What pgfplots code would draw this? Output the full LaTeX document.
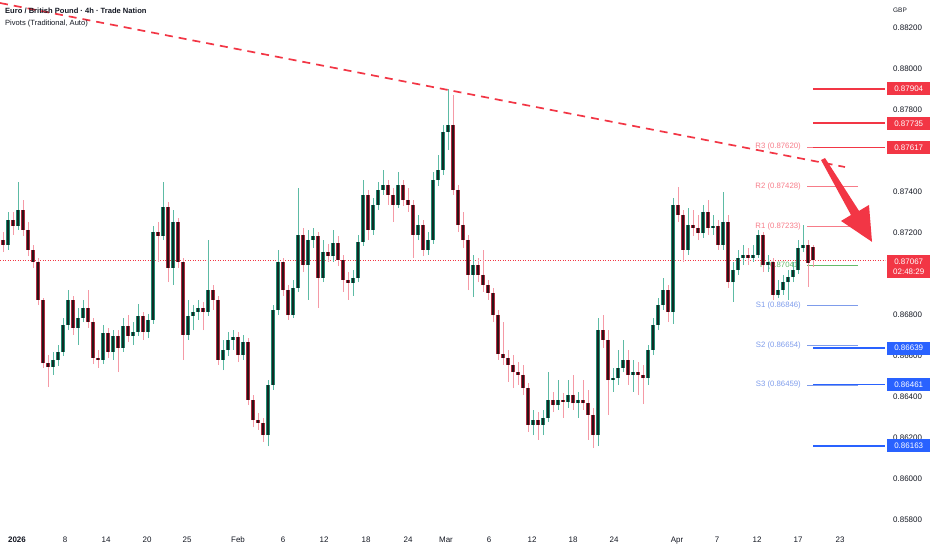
\documentclass[border=0pt]{standalone}
\usepackage{fontspec}
\setmainfont{Liberation Sans}
\usepackage{pgfplots}
\usepackage{pgfplotstable}
\pgfplotsset{compat=1.18}
\definecolor{tvred}{HTML}{F23645}
\definecolor{tvblue}{HTML}{2962FF}
\definecolor{tvtext}{HTML}{131722}
\definecolor{upwick}{HTML}{5DBBA5}
\definecolor{upedge}{HTML}{1F8A70}
\definecolor{upbody}{HTML}{132A25}
\definecolor{dnwick}{HTML}{F59AA6}
\definecolor{dnedge}{HTML}{B02A3E}
\definecolor{dnbody}{HTML}{2A1317}
\definecolor{rpiv}{HTML}{F77C89}
\definecolor{spiv}{HTML}{7E9CEB}
\definecolor{ppiv}{HTML}{66BB6A}
% each candle: (x, low wick, body bottom), (x, high wick, body top), jump
\pgfplotstableread{
x w b
8 0.87118 0.87142
8 0.87303 0.87264
8 nan nan
18 0.87215 0.87235
18 0.87449 0.87313
18 nan nan
53 0.86508 0.86547
53 0.86620 0.86581
53 nan nan
58 0.86552 0.86581
58 0.86654 0.86620
58 nan nan
63 0.86600 0.86620
63 0.86786 0.86752
63 nan nan
68 0.86727 0.86752
68 0.86922 0.86874
68 nan nan
78 0.86654 0.86737
78 0.86835 0.86786
78 nan nan
83 0.86766 0.86786
83 0.86874 0.86835
83 nan nan
103 0.86561 0.86581
103 0.86752 0.86713
103 nan nan
113 0.86581 0.86620
113 0.86727 0.86698
113 nan nan
123 0.86620 0.86640
123 0.86786 0.86747
123 nan nan
133 0.86654 0.86698
133 0.86766 0.86718
133 nan nan
138 0.86698 0.86718
138 0.86854 0.86796
138 nan nan
148 0.86688 0.86718
148 0.86805 0.86776
148 nan nan
153 0.86757 0.86776
153 0.87235 0.87205
153 nan nan
163 0.87166 0.87186
163 0.87449 0.87327
163 nan nan
173 0.86947 0.87030
173 0.87313 0.87254
173 nan nan
188 0.86679 0.86703
188 0.86874 0.86796
188 nan nan
193 0.86727 0.86796
193 0.86849 0.86815
193 nan nan
198 0.86776 0.86815
198 0.86874 0.86835
198 nan nan
208 0.86796 0.86815
208 0.87166 0.86922
208 nan nan
223 0.86532 0.86581
223 0.86679 0.86630
223 nan nan
228 0.86600 0.86630
228 0.86718 0.86679
228 nan nan
233 0.86630 0.86679
233 0.86727 0.86693
233 nan nan
243 0.86581 0.86605
243 0.86703 0.86669
243 nan nan
268 0.86160 0.86215
268 0.86483 0.86459
268 nan nan
273 0.86435 0.86459
273 0.86849 0.86825
273 nan nan
278 0.86800 0.86825
278 0.87118 0.87059
278 nan nan
293 0.86786 0.86800
293 0.86971 0.86932
293 nan nan
298 0.86913 0.86932
298 0.87420 0.87191
298 nan nan
308 0.86874 0.87044
308 0.87215 0.87166
308 nan nan
313 0.87127 0.87166
313 0.87225 0.87186
313 nan nan
323 0.86961 0.86981
323 0.87166 0.87108
323 nan nan
333 0.87059 0.87088
333 0.87215 0.87152
333 nan nan
353 0.86893 0.86957
353 0.87020 0.86981
353 nan nan
358 0.86961 0.86981
358 0.87191 0.87157
358 nan nan
363 0.87137 0.87157
363 0.87459 0.87386
363 nan nan
373 0.87191 0.87215
373 0.87371 0.87337
373 nan nan
378 0.87313 0.87337
378 0.87449 0.87410
378 nan nan
383 0.87386 0.87410
383 0.87508 0.87435
383 nan nan
398 0.87322 0.87337
398 0.87498 0.87435
398 nan nan
418 0.87166 0.87191
418 0.87288 0.87239
418 nan nan
428 0.87093 0.87118
428 0.87205 0.87166
428 nan nan
433 0.87147 0.87166
433 0.87498 0.87459
433 nan nan
438 0.87430 0.87459
438 0.87581 0.87508
438 nan nan
443 0.87483 0.87508
443 0.87727 0.87693
443 nan nan
448 0.87605 0.87693
448 0.87904 0.87727
448 nan nan
473 0.86888 0.86996
473 0.87093 0.87044
473 nan nan
533 0.86215 0.86264
533 0.86337 0.86288
533 nan nan
543 0.86215 0.86264
543 0.86337 0.86298
543 nan nan
548 0.86279 0.86298
548 0.86522 0.86386
548 nan nan
558 0.86337 0.86361
558 0.86483 0.86386
558 nan nan
568 0.86347 0.86376
568 0.86483 0.86410
568 nan nan
578 0.86298 0.86371
578 0.86425 0.86386
578 nan nan
598 0.86161 0.86215
598 0.86786 0.86727
598 nan nan
613 0.86425 0.86483
613 0.86542 0.86493
613 nan nan
618 0.86459 0.86493
618 0.86630 0.86542
618 nan nan
623 0.86522 0.86542
623 0.86679 0.86581
623 nan nan
633 0.86425 0.86508
633 0.86581 0.86522
633 nan nan
648 0.86459 0.86493
648 0.86654 0.86630
648 nan nan
653 0.86605 0.86630
653 0.86786 0.86752
653 nan nan
658 0.86727 0.86752
658 0.86883 0.86849
658 nan nan
663 0.86825 0.86849
663 0.86981 0.86922
663 nan nan
673 0.86757 0.86815
673 0.87371 0.87337
673 nan nan
688 0.87093 0.87118
688 0.87322 0.87239
688 nan nan
703 0.87176 0.87200
703 0.87337 0.87303
703 nan nan
713 0.87191 0.87225
713 0.87288 0.87235
713 nan nan
723 0.87118 0.87142
723 0.87400 0.87254
723 nan nan
733 0.86864 0.86961
733 0.87059 0.87020
733 nan nan
738 0.86996 0.87020
738 0.87118 0.87079
738 nan nan
743 0.87044 0.87079
743 0.87142 0.87093
743 nan nan
753 0.87059 0.87079
753 0.87142 0.87093
753 nan nan
758 0.87079 0.87093
758 0.87215 0.87191
758 nan nan
768 0.87010 0.87044
768 0.87093 0.87059
768 nan nan
778 0.86883 0.86898
778 0.86971 0.86922
778 nan nan
783 0.86898 0.86922
783 0.86996 0.86961
783 nan nan
788 0.86874 0.86961
788 0.87020 0.86986
788 nan nan
793 0.86961 0.86986
793 0.87059 0.87020
793 nan nan
798 0.87000 0.87020
798 0.87166 0.87127
798 nan nan
803 0.87108 0.87127
803 0.87239 0.87142
803 nan nan
}\upcandles
\pgfplotstableread{
x w b
3 0.87108 0.87142
3 0.87205 0.87166
3 nan nan
13 0.87191 0.87235
13 0.87303 0.87264
13 nan nan
23 0.87186 0.87215
23 0.87361 0.87313
23 nan nan
28 0.87088 0.87118
28 0.87254 0.87215
28 nan nan
33 0.87030 0.87059
33 0.87142 0.87118
33 nan nan
38 0.86849 0.86874
38 0.87079 0.87059
38 nan nan
43 0.86542 0.86566
43 0.86883 0.86874
43 nan nan
48 0.86449 0.86547
48 0.86605 0.86566
48 nan nan
73 0.86703 0.86737
73 0.86893 0.86874
73 nan nan
88 0.86737 0.86766
88 0.86922 0.86835
88 nan nan
93 0.86561 0.86591
93 0.86786 0.86766
93 nan nan
98 0.86542 0.86581
98 0.86630 0.86591
98 nan nan
108 0.86591 0.86620
108 0.86737 0.86713
108 nan nan
118 0.86522 0.86640
118 0.86727 0.86698
118 nan nan
128 0.86669 0.86698
128 0.86800 0.86747
128 nan nan
143 0.86679 0.86718
143 0.86815 0.86796
143 nan nan
158 0.87059 0.87186
158 0.87254 0.87205
158 nan nan
168 0.86961 0.87030
168 0.87352 0.87327
168 nan nan
178 0.87030 0.87059
178 0.87274 0.87254
178 nan nan
183 0.86581 0.86703
183 0.87079 0.87059
183 nan nan
203 0.86727 0.86815
203 0.86864 0.86835
203 nan nan
213 0.86825 0.86874
213 0.86947 0.86922
213 nan nan
218 0.86557 0.86581
218 0.86893 0.86874
218 nan nan
238 0.86571 0.86605
238 0.86718 0.86693
238 nan nan
248 0.86361 0.86386
248 0.86688 0.86669
248 nan nan
253 0.86254 0.86288
253 0.86410 0.86386
253 nan nan
258 0.86240 0.86274
258 0.86322 0.86288
258 nan nan
263 0.86181 0.86215
263 0.86298 0.86274
263 nan nan
283 0.86893 0.86922
283 0.87079 0.87059
283 nan nan
288 0.86776 0.86800
288 0.86947 0.86922
288 nan nan
303 0.87010 0.87044
303 0.87225 0.87191
303 nan nan
318 0.86835 0.86981
318 0.87205 0.87186
318 nan nan
328 0.87059 0.87088
328 0.87147 0.87108
328 nan nan
338 0.87039 0.87069
338 0.87186 0.87152
338 nan nan
343 0.86913 0.86971
343 0.87093 0.87069
343 nan nan
348 0.86874 0.86957
348 0.87010 0.86971
348 nan nan
368 0.87166 0.87215
368 0.87410 0.87386
368 nan nan
388 0.87337 0.87386
388 0.87459 0.87435
388 nan nan
393 0.87254 0.87337
393 0.87420 0.87386
393 nan nan
403 0.87332 0.87361
403 0.87459 0.87435
403 nan nan
408 0.87303 0.87337
408 0.87420 0.87361
408 nan nan
413 0.87079 0.87191
413 0.87361 0.87337
413 nan nan
423 0.87088 0.87118
423 0.87264 0.87239
423 nan nan
453 0.87386 0.87410
453 0.87874 0.87727
453 nan nan
458 0.87205 0.87239
458 0.87435 0.87410
458 nan nan
463 0.87127 0.87166
463 0.87303 0.87239
463 nan nan
468 0.86922 0.86996
468 0.87191 0.87166
468 nan nan
478 0.86961 0.86996
478 0.87079 0.87044
478 nan nan
483 0.86913 0.86947
483 0.87118 0.86996
483 nan nan
488 0.86874 0.86908
488 0.86971 0.86947
488 nan nan
493 0.86766 0.86800
493 0.86932 0.86908
493 nan nan
498 0.86581 0.86610
498 0.86825 0.86800
498 nan nan
503 0.86557 0.86591
503 0.86766 0.86610
503 nan nan
508 0.86474 0.86557
508 0.86630 0.86591
508 nan nan
513 0.86444 0.86522
513 0.86605 0.86557
513 nan nan
518 0.86459 0.86508
518 0.86571 0.86522
518 nan nan
523 0.86410 0.86444
523 0.86557 0.86508
523 nan nan
528 0.86230 0.86264
528 0.86469 0.86444
528 nan nan
538 0.86191 0.86264
538 0.86327 0.86288
538 nan nan
553 0.86327 0.86361
553 0.86425 0.86386
553 nan nan
563 0.86298 0.86376
563 0.86420 0.86386
563 nan nan
573 0.86337 0.86371
573 0.86508 0.86410
573 nan nan
583 0.86337 0.86371
583 0.86483 0.86386
583 nan nan
588 0.86191 0.86313
588 0.86435 0.86371
588 nan nan
593 0.86152 0.86215
593 0.86347 0.86313
593 nan nan
603 0.86640 0.86679
603 0.86800 0.86727
603 nan nan
608 0.86313 0.86483
608 0.86727 0.86679
608 nan nan
628 0.86459 0.86508
628 0.86630 0.86581
628 nan nan
638 0.86410 0.86508
638 0.86571 0.86522
638 nan nan
643 0.86366 0.86493
643 0.86557 0.86508
643 nan nan
668 0.86766 0.86815
668 0.86947 0.86922
668 nan nan
678 0.87254 0.87288
678 0.87425 0.87337
678 nan nan
683 0.87059 0.87118
683 0.87313 0.87288
683 nan nan
693 0.87186 0.87225
693 0.87313 0.87239
693 nan nan
698 0.87166 0.87200
698 0.87288 0.87225
698 nan nan
708 0.87191 0.87225
708 0.87361 0.87303
708 nan nan
718 0.87118 0.87142
718 0.87264 0.87235
718 nan nan
728 0.86932 0.86961
728 0.87288 0.87254
728 nan nan
748 0.87044 0.87079
748 0.87127 0.87093
748 nan nan
763 0.87010 0.87044
763 0.87205 0.87191
763 nan nan
773 0.86874 0.86898
773 0.87079 0.87059
773 nan nan
808 0.86937 0.87054
808 0.87166 0.87142
808 nan nan
813 0.87035 0.87067
813 0.87142 0.87132
813 nan nan
}\dncandles
\begin{document}
\begin{tikzpicture}
\path[use as bounding box] (0,-20bp) rectangle (932bp,530bp);
\begin{axis}[
  at={(0,0)}, anchor=south west,
  scale only axis, width=885bp, height=530bp,
  xmin=0, xmax=885, ymin=0.857517, ymax=0.883366,
  axis line style={draw=none}, major tick length=0pt,
  clip=false, unbounded coords=jump, no markers,
  scaled y ticks=false,
  ytick={0.858,0.860,0.862,0.864,0.866,0.868,0.872,0.874,0.878,0.880,0.882},
  yticklabel pos=right,
  y tick label style={/pgf/number format/.cd, fixed, fixed zerofill, precision=5, assume math mode=true, /tikz/.cd, anchor=west, xshift=8bp, inner sep=0pt, font=\fontsize{8}{9}\selectfont, text=tvtext},
  xtick={17,65,106,147,187,238,283,324,366,408,446,489,532,573,614,677,717,757,798,840},
  xticklabels={\textbf{2026},8,14,20,25,Feb,6,12,18,24,Mar,6,12,18,24,Apr,7,12,17,23},
  x tick label style={anchor=base, yshift=-12bp, inner sep=0pt, font=\fontsize{8}{9}\selectfont, text=tvtext},
]
% current price line
\addplot[tvred, line width=0.6bp, dash pattern=on 1bp off 1.5bp] coordinates {(0,0.87067) (885,0.87067)};
% trend line
\addplot[tvred, line width=1.7bp, dash pattern=on 8bp off 6bp] coordinates {(0,0.88322) (845,0.87522)};
% pivot levels
\addplot[rpiv, line width=0.8bp] coordinates {(807,0.87620) (858,0.87620)};
\addplot[rpiv, line width=0.8bp] coordinates {(807,0.87428) (858,0.87428)};
\addplot[rpiv, line width=0.8bp] coordinates {(807,0.87233) (858,0.87233)};
\addplot[ppiv, line width=0.8bp] coordinates {(807,0.87041) (858,0.87041)};
\addplot[spiv, line width=0.8bp] coordinates {(807,0.86846) (858,0.86846)};
\addplot[spiv, line width=0.8bp] coordinates {(807,0.86654) (858,0.86654)};
\addplot[spiv, line width=0.8bp] coordinates {(807,0.86459) (858,0.86459)};
\begin{scope}[every node/.style={anchor=east, inner sep=0pt, font=\fontsize{7.8}{9}\selectfont}]
\node[text=rpiv] at (axis cs:801,0.87620) {R3 (0.87620)};
\node[text=rpiv] at (axis cs:801,0.87428) {R2 (0.87428)};
\node[text=rpiv] at (axis cs:801,0.87233) {R1 (0.87233)};
\node[text=ppiv] at (axis cs:801,0.87041) {P (0.87041)};
\node[text=spiv] at (axis cs:801,0.86846) {S1 (0.86846)};
\node[text=spiv] at (axis cs:801,0.86654) {S2 (0.86654)};
\node[text=spiv] at (axis cs:801,0.86459) {S3 (0.86459)};
\end{scope}
% candles
\addplot[upwick, line width=0.8bp] table[x=x, y=w] {\upcandles};
\addplot[dnwick, line width=0.8bp] table[x=x, y=w] {\dncandles};
\addplot[upedge, line width=3.8bp] table[x=x, y=b] {\upcandles};
\addplot[dnedge, line width=3.8bp] table[x=x, y=b] {\dncandles};
\addplot[upbody, line width=2.4bp] table[x=x, y=b] {\upcandles};
\addplot[dnbody, line width=2.4bp] table[x=x, y=b] {\dncandles};
% arrow
\fill[tvred] (axis cs:821,0.87556) -- (axis cs:825,0.87566) -- (axis cs:859,0.87308) -- (axis cs:869,0.87337) -- (axis cs:872,0.87157) -- (axis cs:841,0.87259) -- (axis cs:851,0.87288) -- cycle;
% key levels
\addplot[tvred, line width=1.8bp] coordinates {(813,0.87904) (885,0.87904)};
\addplot[tvred, line width=1.8bp] coordinates {(813,0.87735) (885,0.87735)};
\addplot[tvred, line width=1.8bp] coordinates {(813,0.87617) (885,0.87617)};
\addplot[tvblue, line width=1.8bp] coordinates {(813,0.86639) (885,0.86639)};
\addplot[tvblue, line width=1.8bp] coordinates {(813,0.86461) (885,0.86461)};
\addplot[tvblue, line width=1.8bp] coordinates {(813,0.86163) (885,0.86163)};
\begin{scope}[every node/.style={anchor=west, inner sep=0pt, minimum width=43bp, minimum height=13bp, text=white, font=\fontsize{8}{9}\selectfont}]
\node[fill=tvred] at (axis cs:887,0.87904) {0.87904};
\node[fill=tvred] at (axis cs:887,0.87735) {0.87735};
\node[fill=tvred] at (axis cs:887,0.87617) {0.87617};
\node[fill=tvblue] at (axis cs:887,0.86639) {0.86639};
\node[fill=tvblue] at (axis cs:887,0.86461) {0.86461};
\node[fill=tvblue] at (axis cs:887,0.86163) {0.86163};
\end{scope}
\node[fill=tvred, text=white, anchor=north west, inner sep=1.5bp, minimum width=43bp, minimum height=23bp, align=center, font=\fontsize{8}{10}\selectfont] at (axis cs:887,0.87093) {0.87067\\02:48:29};
\end{axis}
\node[anchor=base west, inner sep=0pt, text=tvtext, font=\bfseries\fontsize{7.6}{9}\selectfont] at (5bp,516bp) {Euro / British Pound · 4h · Trade Nation};
\node[anchor=base west, inner sep=0pt, text=tvtext, font=\fontsize{7.6}{9}\selectfont] at (5bp,504bp) {Pivots (Traditional, Auto)};
\node[anchor=base, inner sep=0pt, text=tvtext, font=\fontsize{6.5}{8}\selectfont] at (900bp,517bp) {GBP};
\end{tikzpicture}
\end{document}
